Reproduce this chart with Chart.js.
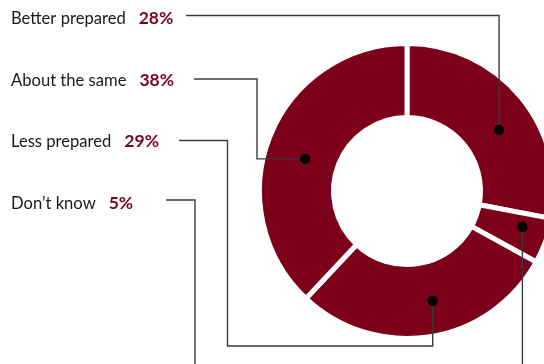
<!DOCTYPE html>
<html>
<head>
<meta charset="utf-8">
<script src="https://cdn.jsdelivr.net/npm/chart.js@4.4.1/dist/chart.umd.min.js"></script>
<style>
  html, body { margin: 0; padding: 0; background: #fff; overflow: hidden; }
  #wrap { position: absolute; left: 0; top: 0; width: 600px; height: 364px; }
</style>
</head>
<body>
<div id="wrap"><canvas id="donut"></canvas></div>
<script>
// slices, clockwise from 12 o'clock
const categories = ["Better prepared", "Don’t know", "Less prepared", "About the same"];
const shares = [28, 5, 29, 38];

const RED = "#7d001b";

// left-hand legend rows, top to bottom: slice index, text baseline, leader line y
const rows = [
  { slice: 0, base: 24,    lineY: 15.5, lineX: 186 },
  { slice: 3, base: 85.5,  lineY: 79,   lineX: 194, elbowX: 257 },
  { slice: 2, base: 147,   lineY: 140.5, lineX: 179, elbowX: 227.5, bottomY: 346 },
  { slice: 1, base: 208.5, lineY: 200,  lineX: 166, elbowX: 195,   bottomY: 390 }
];

// where the dot sits inside each slice: fraction along the arc, fraction across the ring
const dotAt = [
  { a: 0.56, r: 0.50 },
  { a: 0.36, r: 0.64 },
  { a: 0.46, r: 0.53 },
  { a: 0.47, r: 0.45 }
];

function dotPos(arc, k) {
  const p = arc.getProps(["x", "y", "startAngle", "endAngle", "innerRadius", "outerRadius"]);
  const ang = p.startAngle + (p.endAngle - p.startAngle) * dotAt[k].a;
  const rad = p.innerRadius + (p.outerRadius - p.innerRadius) * dotAt[k].r;
  return { x: p.x + rad * Math.cos(ang), y: p.y + rad * Math.sin(ang) };
}

const leaders = {
  id: "leaders",
  afterDatasetsDraw(chart) {
    const ctx = chart.ctx;
    const arcs = chart.getDatasetMeta(0).data;
    ctx.save();

    rows.forEach(row => {
      const i = row.slice;
      const label = categories[i];
      const pct = shares[i] + "%";

      ctx.textBaseline = "alphabetic";
      ctx.textAlign = "left";
      ctx.font = "16.6px Lato";
      ctx.fillStyle = "#1a1a1a";
      ctx.fillText(label, 11, row.base);
      const w = ctx.measureText(label).width;
      ctx.font = "bold 17.5px Lato";
      ctx.fillStyle = RED;
      ctx.fillText(pct, 11 + w + 13, row.base);

      const d = dotPos(arcs[i], i);
      ctx.strokeStyle = "#3a3a3a";
      ctx.lineWidth = 1.4;
      ctx.beginPath();
      ctx.moveTo(row.lineX, row.lineY);
      if (row.bottomY) {
        ctx.lineTo(row.elbowX, row.lineY);
        ctx.lineTo(row.elbowX, row.bottomY);
        ctx.lineTo(d.x, row.bottomY);
        ctx.lineTo(d.x, d.y);
      } else if (row.elbowX) {
        ctx.lineTo(row.elbowX, row.lineY);
        ctx.lineTo(row.elbowX, d.y);
        ctx.lineTo(d.x, d.y);
      } else {
        ctx.lineTo(d.x, row.lineY);
        ctx.lineTo(d.x, d.y);
      }
      ctx.stroke();

      ctx.fillStyle = "#000";
      ctx.beginPath();
      ctx.arc(d.x, d.y, 5.2, 0, Math.PI * 2);
      ctx.fill();
    });
    ctx.restore();
  }
};

new Chart(document.getElementById("donut"), {
  type: "doughnut",
  data: {
    labels: categories,
    datasets: [{
      data: shares,
      backgroundColor: RED,
      borderColor: "#fff",
      borderWidth: 5,
      borderJoinStyle: "miter"
    }]
  },
  options: {
    responsive: true,
    maintainAspectRatio: false,
    animation: false,
    cutout: 73.5,
    layout: { padding: { left: 257, top: 41, right: 43, bottom: 23 } },
    plugins: {
      legend: { display: false },
      tooltip: { enabled: false }
    },
    events: []
  },
  plugins: [leaders]
});
</script>
</body>
</html>
